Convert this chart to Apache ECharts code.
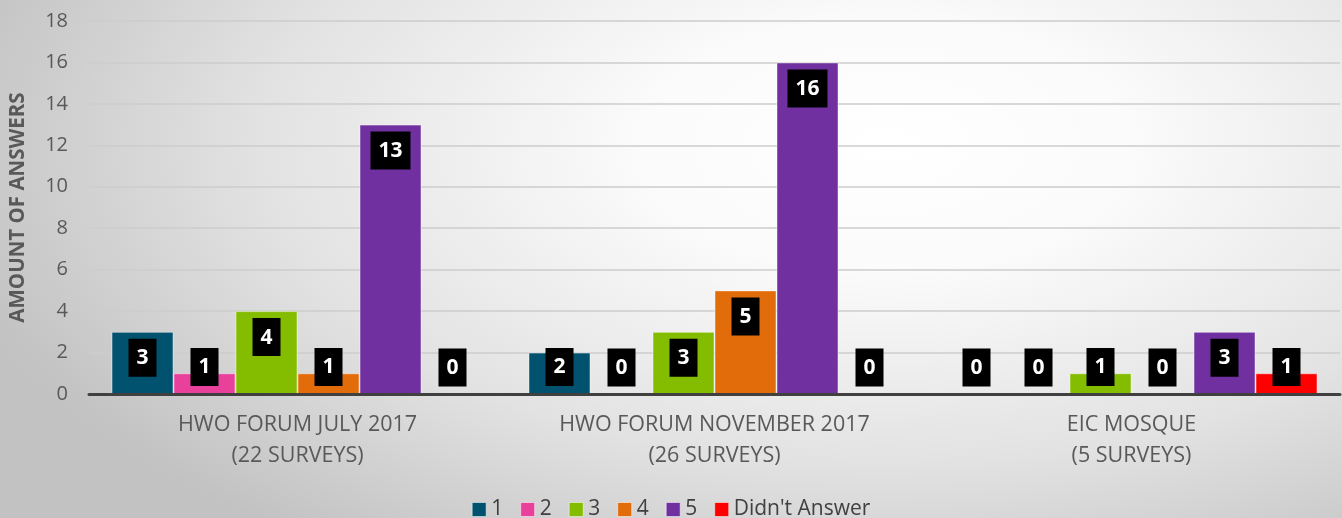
<!DOCTYPE html>
<html>
<head>
<meta charset="utf-8">
<script src="https://cdn.jsdelivr.net/npm/echarts@6/dist/echarts.min.js"></script>
<style>
  html, body { margin: 0; padding: 0; }
  body {
    width: 1342px; height: 518px; overflow: hidden;
    background: radial-gradient(ellipse 72% 95% at 66% 28%, #ffffff 0%, #fbfbfb 25%, #e2e2e2 65%, #c2c2c2 100%);
  }
  #chart { width: 1342px; height: 518px; }
</style>
</head>
<body>
<div id="chart"></div>
<script>
// categories + series values
const categories = [
  'HWO FORUM JULY 2017\n(22 SURVEYS)',
  'HWO FORUM NOVEMBER 2017\n(26 SURVEYS)',
  'EIC MOSQUE\n(5 SURVEYS)'
];
const seriesNames = ['1', '2', '3', '4', '5', "Didn't Answer"];
const answers1 = [3, 2, 0];
const answers2 = [1, 0, 0];
const answers3 = [4, 3, 1];
const answers4 = [1, 5, 0];
const answers5 = [13, 16, 3];
const noAnswer = [0, 0, 1];
const colors = ['#01526e', '#e8409b', '#84bc00', '#e36c0a', '#7030a0', '#ff0000'];

const chart = echarts.init(document.getElementById('chart'), null, { renderer: 'canvas' });

// short bars get the label parked just above the axis, tall ones get it inside the top
function withLabels(values) {
  return values.map(v => ({
    value: v,
    label: v < 2.5
      ? { position: 'insideBottom', distance: 8 }
      : { position: 'insideTop', distance: 7 }
  }));
}

const allValues = [answers1, answers2, answers3, answers4, answers5, noAnswer];

const series = allValues.map((vals, i) => ({
  name: seriesNames[i],
  type: 'bar',
  barWidth: 62,
  barGap: '0%',
  data: withLabels(vals),
  itemStyle: {
    color: colors[i],
    borderColor: 'rgba(255,255,255,0.45)',
    borderWidth: 1
  },
  label: {
    show: true,
    color: '#fff',
    backgroundColor: '#000',
    fontFamily: 'Open Sans',
    fontWeight: 'bold',
    fontSize: 21,
    lineHeight: 21,
    padding: [9, 8, 8, 8]
  },
  z: 2
}));

chart.setOption({
  backgroundColor: 'transparent',
  animation: false,
  grid: { left: 88, right: 2, top: 21, bottom: 124 },
  legend: {
    top: 494,
    left: 'center',
    icon: 'rect',
    itemWidth: 14,
    itemHeight: 14,
    itemGap: 17,
    itemStyle: { borderColor: 'rgba(255,255,255,0.5)', borderWidth: 1 },
    textStyle: { color: '#404040', fontSize: 21, fontFamily: 'Open Sans' },
    data: seriesNames
  },
  xAxis: {
    type: 'category',
    data: categories,
    z: 10,
    axisLine: { lineStyle: { color: '#404040', width: 3 } },
    axisTick: { show: false },
    axisLabel: {
      color: '#595959',
      fontSize: 21.5,
      fontFamily: 'Open Sans',
      lineHeight: 31,
      margin: 15
    }
  },
  yAxis: {
    type: 'value',
    min: 0,
    max: 18,
    interval: 2,
    name: 'AMOUNT OF ANSWERS',
    nameLocation: 'middle',
    nameGap: 60,
    nameTextStyle: { color: '#595959', fontSize: 20.5, fontWeight: 'bold', fontFamily: 'Open Sans' },
    axisLine: { show: false },
    axisTick: { show: false },
    axisLabel: { color: '#595959', fontSize: 20, fontFamily: 'Open Sans', margin: 21 },
    splitLine: { lineStyle: { color: '#cdcdcd', width: 1.5 } }
  },
  series: series
});
</script>
</body>
</html>
